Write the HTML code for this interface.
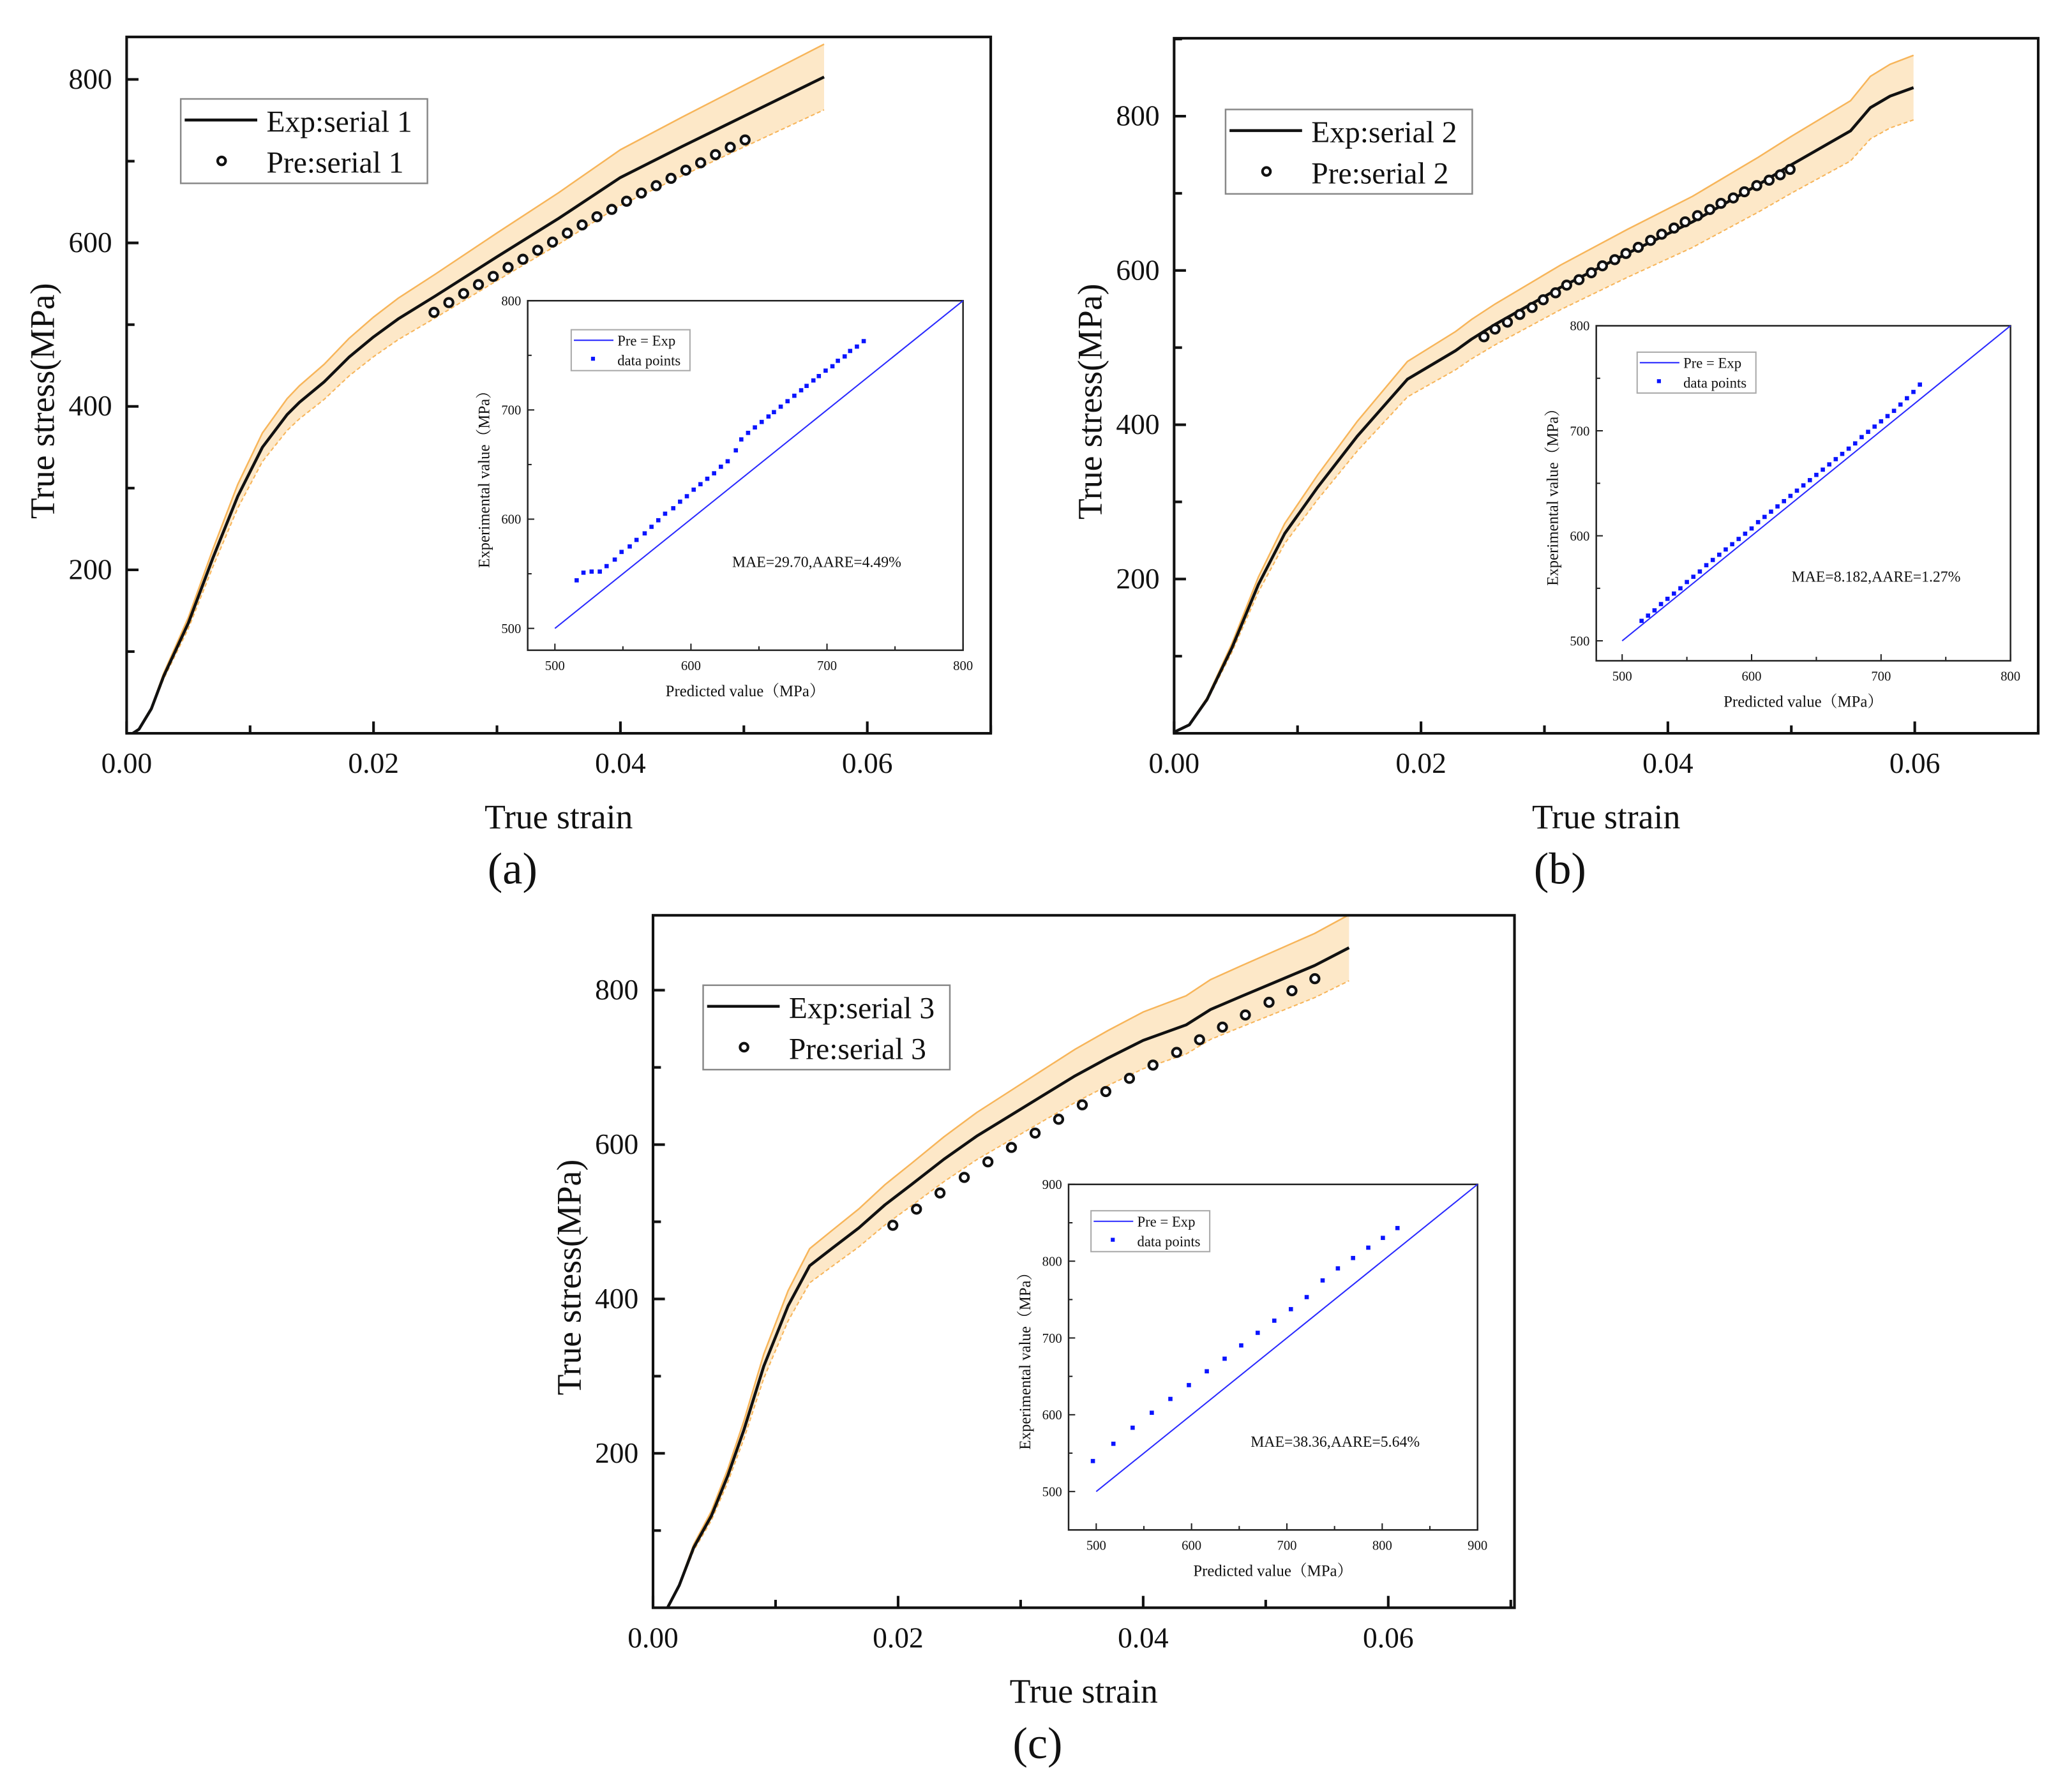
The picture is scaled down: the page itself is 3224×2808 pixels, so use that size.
<!DOCTYPE html>
<html><head><meta charset="utf-8"><style>
html,body{margin:0;padding:0;background:#fff;}
svg{display:block;}
text{font-family:"Liberation Serif","Noto Serif CJK SC",serif;fill:#111;}
</style></head><body>
<svg id="fig" width="3224" height="2808" viewBox="0 0 1560 1358.7" xmlns="http://www.w3.org/2000/svg"></svg>
<script>
// ---------- Panel (a) data ----------
const strainA=[0.0005,0.001,0.002,0.003,0.005,0.007,0.009,0.011,0.013,0.014,0.016,0.018,0.020,0.022,0.025,0.030,0.035,0.040,0.045,0.050,0.0565];
const stressA=[0,5,30,70,135,215,290,350,390,405,430,460,485,507,535,583,630,680,718,755,803];
const preStrainA=[0.0249,0.0261,0.0273,0.0285,0.0297,0.0309,0.0321,0.0333,0.0345,0.0357,0.0369,0.0381,0.0393,0.0405,0.0417,0.0429,0.0441,0.0453,0.0465,0.0477,0.0489,0.0501];
const preStressA=[515,527,538,549,559,570,580,591,601,612,622,632,641,651,661,670,679,689,698,708,717,726];
const insPredA=[516,521,527,533,538,544,549,555,560,566,571,576,581,587,592,597,602,607,612,617,622,627,633,637,642,647,652,657,661,666,671,676,681,685,690,694,699,704,708,713,717,722,727];
const insExpA=[544,551,552,552,557,563,570,575,581,587,593,599,605,610,616,621,627,632,637,642,648,653,663,673,679,684,689,694,698,703,708,713,718,722,727,731,736,740,745,749,754,758,763];
// ---------- Panel (b) data ----------
const strainB=[0,0.00123,0.00267,0.00469,0.00683,0.00896,0.01163,0.01483,0.0189,0.0228,0.0241,0.0260,0.0313,0.0367,0.0420,0.0473,0.0500,0.0548,0.0564,0.0580,0.0599];
const stressB=[1.5,11,44,111,193,259,319,385,459,496,511,530,578,622,663,711,737,781,811,826,837];
const preStrainB=[0.0251,0.0260,0.0270,0.0280,0.0290,0.0299,0.0309,0.0318,0.0328,0.0338,0.0347,0.0357,0.0366,0.0376,0.0386,0.0395,0.0405,0.0414,0.0424,0.0434,0.0443,0.0453,0.0462,0.0472,0.0482,0.0491,0.0499];
const preStressB=[514,524,533,543,552,562,571,581,588,597,606,614,622,630,639,647,655,663,671,679,687,694,702,710,717,724,731];
const insPredB=[515,520,525,530,535,540,545,550,555,560,565,570,575,580,585,590,595,600,605,610,615,620,625,630,635,640,645,650,655,660,665,670,675,680,685,690,695,700,705,710,715,720,725,730];
const insExpB=[519,524,529,535,540,545,550,556,561,566,572,577,582,587,592,597,602,607,613,618,623,628,633,638,643,648,653,658,663,668,673,678,683,688,694,699,704,709,714,719,725,731,737,744];
// ---------- Panel (c) data ----------
const strainC=[0.00118,0.00214,0.00332,0.00476,0.0061,0.00743,0.00904,0.01102,0.01278,0.01465,0.01679,0.01893,0.02107,0.02374,0.02642,0.02909,0.03176,0.03444,0.03711,0.0400,0.0435,0.0455,0.0480,0.0510,0.0540,0.0568];
const stressC=[0,29,78,119,171,231,313,391,443,466,492,522,548,581,611,637,663,689,712,735,755,775,792,812,832,855];
const preStrainC=[0.01957,0.0215,0.02342,0.0254,0.02733,0.02925,0.03118,0.0331,0.03503,0.03695,0.03888,0.0408,0.04273,0.0446,0.04647,0.04834,0.05027,0.05214,0.05401];
const preStressC=[495.5,516.4,537.3,557.5,577.6,596.3,614.9,632.8,651.5,668.7,685.8,703,719.4,735.8,752.2,767.9,784.3,799.3,814.9];
const insPredC=[496.5,518,538.2,558.3,577.8,597.2,616,634.7,652.1,669.4,686.8,704.2,720.8,737.5,753.5,769.4,785.4,800.7,816];
const insExpC=[539.7,562.2,583.1,602.6,620.6,638.6,656.6,673,690.3,706.7,722.5,737.5,753.2,774.9,790.6,804.1,817.6,830.3,843.1];
// shared
const bandPct=0.05;
const xTickLabels=["0.00","0.02","0.04","0.06"];
const xTickValues=[0,0.02,0.04,0.06];
const yTickValues=[200,400,600,800];

const NS="http://www.w3.org/2000/svg";
const svg=document.getElementById('fig');
function mk(tag,attrs,parent){const e=document.createElementNS(NS,tag);for(const k in attrs)e.setAttribute(k,attrs[k]);(parent||svg).appendChild(e);return e;}
function txt(s,attrs,parent){const e=mk('text',attrs,parent);e.textContent=s;return e;}

function panel(P){
  const g=mk('g',{});
  
  
  const X=v=>P.x0+(v-P.xmin)/(P.xmax-P.xmin)*(P.x1-P.x0);
  const Y=v=>P.y1-(v-P.ymin)/(P.ymax-P.ymin)*(P.y1-P.y0);
  let up=[],lo=[];
  for(let i=0;i<P.sx.length;i++){up.push(X(P.sx[i])+','+Y(P.sy[i]*(1+bandPct)));lo.push(X(P.sx[i])+','+Y(P.sy[i]*(1-bandPct)));}
  const band=mk('polygon',{points:up.concat(lo.slice().reverse()).join(' '),fill:'#fde8c8',stroke:'none'},g);
  
  
  const ub=mk('polyline',{points:up.join(' '),fill:'none',stroke:'#f7b55a','stroke-width':1.2},g);
  
  
  const lb=mk('polyline',{points:lo.join(' '),fill:'none',stroke:'#f7b55a','stroke-width':1,'stroke-dasharray':'3,2'},g);
  
  
  const line=mk('polyline',{points:P.sx.map((v,i)=>X(v)+','+Y(P.sy[i])).join(' '),fill:'none',stroke:'#111','stroke-width':2.2,'stroke-linejoin':'round'},g);
  
  
  for(let i=0;i<P.px.length;i++){
    const c=mk('circle',{cx:X(P.px[i]),cy:Y(P.py[i]),r:3.2,fill:'#fff',stroke:'#111','stroke-width':2},g);
    
    
  }
  const fr=mk('rect',{x:P.x0,y:P.y0,width:P.x1-P.x0,height:P.y1-P.y0,fill:'none',stroke:'#111','stroke-width':2},g);
  
  
  for(let v=0;v<=P.xmax+1e-9;v+=0.01){
    const major=Math.round(v*100)%2===0;
    mk('line',{x1:X(v),x2:X(v),y1:P.y1,y2:P.y1-(major?9:6),stroke:'#111','stroke-width':2},g);
  }
  xTickValues.forEach((v,i)=>{const t=txt(xTickLabels[i],{x:X(v),y:P.y1+30,'text-anchor':'middle','font-size':22},g);
    
    });
  for(let v=100;v<P.ymax;v+=100){
    const major=v%200===0;
    mk('line',{x1:P.x0,x2:P.x0+(major?9:6),y1:Y(v),y2:Y(v),stroke:'#111','stroke-width':2},g);
  }
  yTickValues.forEach(v=>{const t=txt(String(v),{x:P.x0-11,y:Y(v)+7,'text-anchor':'end','font-size':22},g);
    
    });
  const xt=txt('True strain',{x:(P.x0+P.x1)/2,y:P.y1+72,'text-anchor':'middle','font-size':26},g);
  
  
  const cy=(P.y0+P.y1)/2+12;
  const yt=txt('True stress(MPa)',{x:0,y:0,'text-anchor':'middle','font-size':26,transform:`translate(${P.x0-55},${cy}) rotate(-90)`},g);
  
  
  const pl=txt('('+P.id+')',{x:(P.x0+P.x1)/2-35,y:P.y1+114,'text-anchor':'middle','font-size':34},g);
  
  
  const L=P.leg;
  const lg=mk('g',{},g);
  
  
  mk('rect',{x:L[0],y:L[1],width:187,height:64,fill:'#fff',stroke:'#888','stroke-width':1.2},lg);
  mk('line',{x1:L[0]+3,x2:L[0]+58,y1:L[1]+16,y2:L[1]+16,stroke:'#111','stroke-width':2.2},lg);
  txt('Exp:serial '+P.n,{x:L[0]+65,y:L[1]+25,'font-size':23},lg);
  mk('circle',{cx:L[0]+31,cy:L[1]+47,r:3,fill:'#fff',stroke:'#111','stroke-width':2},lg);
  txt('Pre:serial '+P.n,{x:L[0]+65,y:L[1]+56,'font-size':23},lg);
  const I=P.ins;
  const ig=mk('g',{},g);
  
  
  const IX=v=>I.x0+(v-I.xmin)/(I.xmax-I.xmin)*(I.x1-I.x0);
  const IY=v=>I.y1-(v-I.ymin)/(I.ymax-I.ymin)*(I.y1-I.y0);
  mk('rect',{x:I.x0,y:I.y0,width:I.x1-I.x0,height:I.y1-I.y0,fill:'#fff',stroke:'#222','stroke-width':1.2},ig);
  const diag=mk('line',{x1:IX(500),y1:IY(500),x2:IX(I.ymax),y2:IY(I.ymax),stroke:'#2a2aff','stroke-width':1},ig);
  
  
  for(let i=0;i<I.px.length;i++){
    const d=mk('rect',{x:IX(I.px[i])-1.6,y:IY(I.ey[i])-1.6,width:3.2,height:3.2,fill:'#0a14ff'},ig);
    
    
  }
  for(let v=500;v<=I.xmax;v+=50){const mj=v%100===0;
    mk('line',{x1:IX(v),x2:IX(v),y1:I.y1,y2:I.y1-(mj?5:3),stroke:'#222','stroke-width':1},ig);
    if(mj)txt(String(v),{x:IX(v),y:I.y1+15,'text-anchor':'middle','font-size':10},ig);}
  for(let v=500;v<=I.ymax;v+=50){const mj=v%100===0;
    mk('line',{x1:I.x0,x2:I.x0+(mj?5:3),y1:IY(v),y2:IY(v),stroke:'#222','stroke-width':1},ig);
    if(mj)txt(String(v),{x:I.x0-5,y:IY(v)+3.5,'text-anchor':'end','font-size':10},ig);}
  txt('Predicted value（MPa）',{x:(I.x0+I.x1)/2,y:I.y1+35,'text-anchor':'middle','font-size':12},ig);
  txt('Experimental value（MPa）',{x:0,y:0,'text-anchor':'middle','font-size':12,transform:`translate(${I.x0-29},${(I.y0+I.y1)/2}) rotate(-90)`},ig);
  txt(I.mae,{x:I.maeX,y:I.maeY,'font-size':11.5},ig);
  mk('rect',{x:I.lx,y:I.ly,width:90,height:31,fill:'#fff',stroke:'#aaa','stroke-width':1},ig);
  mk('line',{x1:I.lx+2,x2:I.lx+32,y1:I.ly+8,y2:I.ly+8,stroke:'#2a2aff','stroke-width':1},ig);
  txt('Pre = Exp',{x:I.lx+35,y:I.ly+12,'font-size':11},ig);
  mk('rect',{x:I.lx+15,y:I.ly+20.5,width:3,height:3,fill:'#0a14ff'},ig);
  txt('data points',{x:I.lx+35,y:I.ly+27,'font-size':11},ig);
}

panel({id:'a',n:1,x0:96,x1:751,y0:28,y1:556,xmin:0,xmax:0.07,ymin:0,ymax:852,
  sx:strainA,sy:stressA,px:preStrainA,py:preStressA,leg:[137,75],
  ins:{x0:400,x1:730,y0:228,y1:493,xmin:480,xmax:800,ymin:480,ymax:800,px:insPredA,ey:insExpA,
    mae:'MAE=29.70,AARE=4.49%',maeX:555,maeY:430,lx:433,ly:250}});
panel({id:'b',n:2,x0:890,x1:1545,y0:29,y1:556,xmin:0,xmax:0.07,ymin:0,ymax:901,
  sx:strainB,sy:stressB,px:preStrainB,py:preStressB,leg:[929,83],
  ins:{x0:1210,x1:1524,y0:247,y1:501,xmin:480,xmax:800,ymin:481,ymax:800,px:insPredB,ey:insExpB,
    mae:'MAE=8.182,AARE=1.27%',maeX:1358,maeY:441,lx:1241,ly:267}});
panel({id:'c',n:3,x0:495,x1:1148,y0:694,y1:1219,xmin:0,xmax:0.0703,ymin:0,ymax:897,
  sx:strainC,sy:stressC,px:preStrainC,py:preStressC,leg:[533,747],
  ins:{x0:810,x1:1120,y0:898,y1:1160,xmin:471,xmax:900,ymin:450,ymax:900,px:insPredC,ey:insExpC,
    mae:'MAE=38.36,AARE=5.64%',maeX:948,maeY:1097,lx:827,ly:918}});
</script>
</body></html>
